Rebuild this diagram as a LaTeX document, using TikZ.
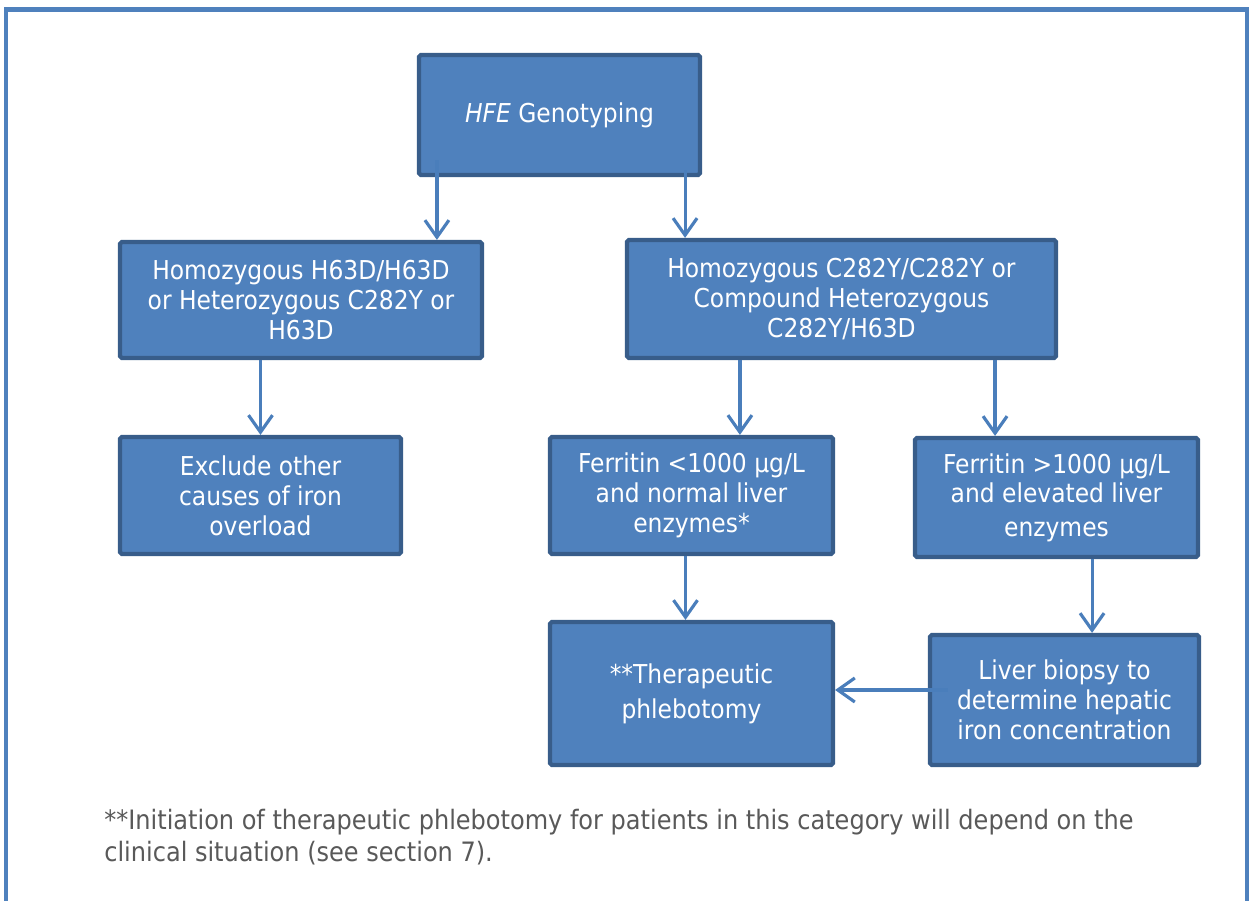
\documentclass[tikz,border=0pt]{standalone}
\usepackage{fontspec}
\setmainfont{DejaVu Sans Condensed}
\usepackage{tikz}
\usepackage{xcolor}
\usetikzlibrary{arrows.meta,positioning,calc}
\definecolor{boxfill}{HTML}{4F81BD}
\definecolor{boxline}{HTML}{385D8A}
\definecolor{link}{HTML}{4A7EBB}
\definecolor{frame}{HTML}{4F81BD}
\definecolor{note}{HTML}{595959}
\tikzset{
  box/.style={draw=boxline, fill=boxfill, rounded corners=1pt, line width=2.4pt,
              align=center, inner sep=2pt, text=white,
              font=\fontsize{14.8}{17}\selectfont},
  arrow/.style={-{Straight Barb[length=3.4mm,width=4.8mm]}, line width=1.8pt, draw=link},
  notetext/.style={align=left, inner sep=0pt, text=note,
                   font=\fontsize{15.2}{18}\selectfont}
}
\begin{document}
\begin{tikzpicture}[x=0.02cm,y=-0.02cm]
        \useasboundingbox (0,0) rectangle (1249,901);
        \draw[draw=frame,line width=0.1cm] (6,930) -- (6,10) -- (1247,10) -- (1247,930);
        % boxes
        \node[box,minimum width=5.62cm,minimum height=2.40cm] (hfe) at (559.5,115)
          {\textit{HFE} Genotyping};
        \node[box,minimum width=7.24cm,minimum height=2.32cm] (hom) at (301,300)
          {Homozygous H63D/H63D\\or Heterozygous C282Y or\\H63D};
        \node[box,minimum width=8.58cm,minimum height=2.36cm] (cys) at (841.5,299)
          {Homozygous C282Y/C282Y or\\Compound Heterozygous\\C282Y/H63D};
        \node[box,minimum width=5.62cm,minimum height=2.34cm] (excl) at (260.5,495.5)
          {Exclude other\\causes of iron\\overload};
        \node[box,minimum width=5.66cm,minimum height=2.34cm] (low) at (691.5,495.5)
          {Ferritin <1000 µg/L\\and normal liver\\enzymes*};
        \node[box,minimum width=5.66cm,minimum height=2.38cm] (high) at (1056.5,497.5)
          {Ferritin >1000 µg/L\\and elevated liver\\[2pt]enzymes};
        \node[box,minimum width=5.66cm,minimum height=2.86cm] (phleb) at (691.5,693.5)
          {**Therapeutic\\[3pt]phlebotomy};
        \node[box,minimum width=5.38cm,minimum height=2.60cm] (biopsy) at (1064.5,700)
          {Liver biopsy to\\determine hepatic\\iron concentration};
        % connectors
        \coordinate (s1) at ([shift={(20,-17)}]hfe.south west);
        \coordinate (s2) at ([shift={(-17,-7)}]hfe.south east);
        \coordinate (s3) at ([shift={(115,0)}]cys.south west);
        \coordinate (s4) at ([shift={(-63,0)}]cys.south east);
        \coordinate (s5) at ([shift={(-108,0)}]high.south east);
        \coordinate (s6) at ([shift={(20,-10)}]biopsy.west);
        \draw[arrow] (s1) -- (s1 |- hom.north);
        \draw[arrow] (s2) -- (s2 |- cys.north);
        \draw[arrow] (excl.north |- hom.south) -- (excl.north);
        \draw[arrow] (s3) -- (s3 |- low.north);
        \draw[arrow] (s4) -- (s4 |- high.north);
        \draw[arrow] ([shift={(-6,0)}]phleb.north |- low.south) -- ([shift={(-6,0)}]phleb.north);
        \draw[arrow] (s5) -- (s5 |- biopsy.north);
        \draw[arrow] (s6) -- (s6 -| phleb.east);
        \node[notetext,anchor=north west] (foot) at (104,809)
          {**Initiation of therapeutic phlebotomy for patients in this category will depend on the\\
           clinical situation (see section 7).};
      \end{tikzpicture}
\end{document}
